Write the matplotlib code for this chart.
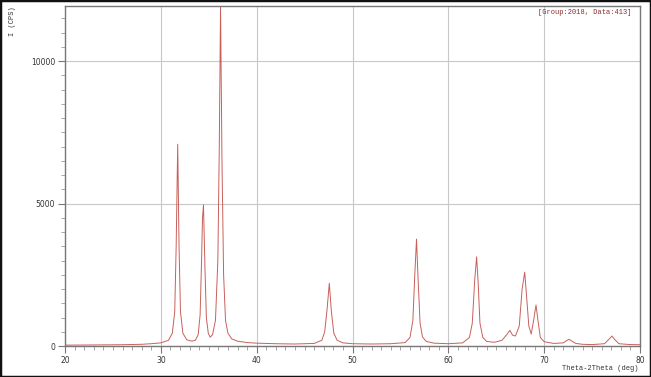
import matplotlib.pyplot as plt
from matplotlib.ticker import MultipleLocator
from matplotlib.patches import Rectangle

# 2theta (deg) and intensity (CPS)
two_theta = [20, 22, 24, 26, 28, 29, 30, 30.8, 31.2, 31.45, 31.6, 31.76, 31.9, 32.05, 32.3, 32.7,
             33.2, 33.6, 33.9, 34.1, 34.25, 34.35, 34.45, 34.6, 34.75, 34.95, 35.15, 35.4, 35.7,
             35.95, 36.1, 36.23, 36.38, 36.55, 36.75, 37.0, 37.4, 38, 39, 40, 42, 44, 46, 46.8,
             47.1, 47.35, 47.58, 47.8, 48.05, 48.4, 49, 50, 52, 54, 55.5, 56.0, 56.3, 56.5, 56.68,
             56.85, 57.05, 57.3, 57.7, 58.5, 60, 61.5, 62.2, 62.5, 62.75, 62.95, 63.1, 63.3, 63.6,
             64.0, 64.8, 65.6, 66.1, 66.42, 66.7, 67.0, 67.4, 67.7, 67.97, 68.15, 68.4, 68.65,
             68.9, 69.15, 69.35, 69.6, 70.0, 71, 72.0, 72.4, 72.6, 72.85, 73.3, 74, 75, 76.3, 76.8,
             77.08, 77.35, 77.8, 79, 80]
intensity = [30, 35, 40, 45, 60, 80, 110, 200, 450, 1200, 3500, 7080, 3500, 1200, 450, 220,
             170, 200, 400, 1100, 3000, 4500, 4950, 2800, 1000, 450, 310, 400, 900,
             3000, 7000, 11950, 6500, 2500, 900, 450, 250, 170, 120, 100, 80, 70, 90, 200,
             500, 1300, 2200, 1200, 450, 200, 110, 80, 70, 80, 120, 300, 900, 2500, 3750,
             2300, 800, 320, 160, 100, 80, 110, 300, 800, 2300, 3130, 2300, 800, 300,
             160, 130, 200, 400, 550, 380, 350, 700, 2000, 2590, 1800, 700, 420,
             900, 1440, 900, 300, 150, 90, 110, 200, 235, 180, 90, 60, 50, 80, 250,
             350, 230, 80, 50, 45]

x_ticks = [20, 30, 40, 50, 60, 70, 80]
y_ticks = [0, 5000, 10000]

fig = plt.figure(figsize=(6.51, 3.77), dpi=100)
ax = fig.add_axes([65 / 651, 1 - 346 / 377, 575 / 651, 340 / 377])

ax.plot(two_theta, intensity, color='#c8605a', lw=0.7)

ax.set_xlim(20, 80)
ax.set_ylim(0, 11930)
ax.set_xticks(x_ticks)
ax.set_yticks(y_ticks)
ax.xaxis.set_minor_locator(MultipleLocator(1))
ax.yaxis.set_minor_locator(MultipleLocator(500))
ax.grid(True, which='major', color='#c8c8c8', lw=0.8)
ax.tick_params(which='major', length=5, color='#777777', labelsize=5.5, labelcolor='#333333', pad=2)
ax.tick_params(which='minor', length=3, color='#999999')
for s in ax.spines.values():
    s.set_color('#777777')
    s.set_linewidth(1.0)

fig.text(12 / 651, 1 - 21 / 377, 'I (CPS)', rotation=90, ha='center', va='center',
         fontsize=5, family='Liberation Mono', color='#333333')
fig.text(638 / 651, 1 - 368 / 377, 'Theta-2Theta (deg)', ha='right', va='center',
         fontsize=5, family='Liberation Mono', color='#333333')
fig.text(631 / 651, 1 - 12 / 377, '[Group:2018, Data:413]', ha='right', va='center',
         fontsize=5, family='Liberation Mono', color='#8b2a2a')

fig.patches.append(Rectangle((0, 0), 1, 1, transform=fig.transFigure, fill=False,
                             edgecolor='#111111', lw=2.5))

fig.savefig('out.png', dpi=100)
